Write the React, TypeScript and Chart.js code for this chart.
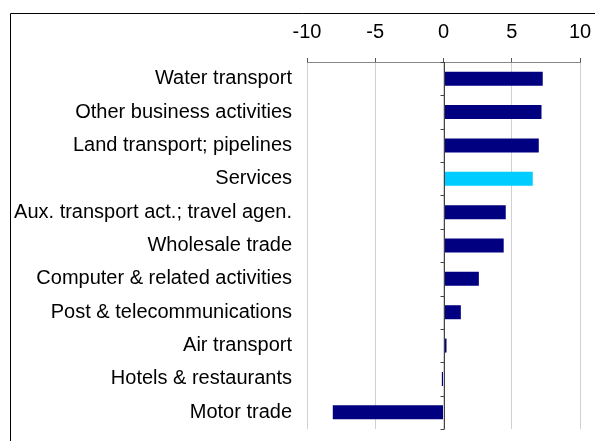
import React, { useEffect, useRef } from "react";
import { Chart, registerables } from "chart.js";

Chart.register(...registerables);

const categories = [
  "Water transport",
  "Other business activities",
  "Land transport; pipelines",
  "Services",
  "Aux. transport act.; travel agen.",
  "Wholesale trade",
  "Computer & related activities",
  "Post & telecommunications",
  "Air transport",
  "Hotels & restaurants",
  "Motor trade",
];

const values = [7.27, 7.18, 6.98, 6.54, 4.56, 4.41, 2.59, 1.27, 0.22, -0.12, -8.11];

const highlightCategory = "Services";
const xTicks = [-10, -5, 0, 5, 10];

const NAVY = "#000080";
const CYAN = "#00CCFF";
const FONT = "'Liberation Sans', Arial, sans-serif";

const framePlugin = {
  id: "frameAndZero",
  beforeDraw(chart: any) {
    const ctx = chart.ctx;
    ctx.save();
    ctx.fillStyle = "#ffffff";
    ctx.fillRect(0, 0, chart.width, chart.height);
    ctx.strokeStyle = "#000000";
    ctx.lineWidth = 1;
    ctx.beginPath();
    ctx.moveTo(10.5, chart.height);
    ctx.lineTo(10.5, 13.5);
    ctx.lineTo(chart.width, 13.5);
    ctx.stroke();
    ctx.restore();
  },
  afterDatasetsDraw(chart: any) {
    const ctx = chart.ctx;
    const xs = chart.scales.x;
    const area = chart.chartArea;
    const x0 = Math.round(xs.getPixelForValue(0)) + 0.5;
    ctx.save();
    ctx.strokeStyle = "#444444";
    ctx.lineWidth = 1;
    ctx.beginPath();
    ctx.moveTo(x0, area.top);
    ctx.lineTo(x0, area.bottom);
    const n = categories.length;
    const step = (area.bottom - area.top) / n;
    for (let i = 0; i <= n; i++) {
      const y = Math.round(area.top + i * step) + 0.5;
      ctx.moveTo(x0 - 4, y);
      ctx.lineTo(x0, y);
    }
    ctx.stroke();
    ctx.restore();
  },
};

export default function App() {
  const ref = useRef<HTMLCanvasElement>(null);

  useEffect(() => {
    if (!ref.current) return;
    const chart = new Chart(ref.current, {
      type: "bar",
      data: {
        labels: categories,
        datasets: [
          {
            data: values,
            backgroundColor: categories.map((c) => (c === highlightCategory ? CYAN : NAVY)),
            borderWidth: 0,
            barPercentage: 0.42,
            categoryPercentage: 1,
          },
        ],
      },
      options: {
        indexAxis: "y",
        animation: false,
        responsive: false,
        maintainAspectRatio: false,
        layout: { padding: { top: 6, right: 15, bottom: 12, left: 0 } },
        plugins: {
          legend: { display: false },
          tooltip: { enabled: false },
        },
        scales: {
          x: {
            position: "top",
            min: -10,
            max: 10,
            afterBuildTicks: (scale: any) => {
              scale.ticks = xTicks.map((v) => ({ value: v }));
            },
            afterFit: (scale: any) => {
              scale.paddingLeft = 0;
              scale.paddingRight = 0;
            },
            ticks: {
              color: "#000000",
              font: { family: FONT, size: 20 },
              padding: 14,
              maxRotation: 0,
            },
            grid: {
              color: "#d0d0d0",
              tickColor: "#555555",
              tickLength: 4,
              lineWidth: 1,
            },
            border: { display: true, color: "#888888" },
          },
          y: {
            afterFit: (scale: any) => {
              scale.width = 307;
              scale.paddingTop = 0;
              scale.paddingBottom = 0;
            },
            ticks: {
              color: "#000000",
              font: { family: FONT, size: 20 },
              padding: 7,
              autoSkip: false,
            },
            grid: { display: false },
            border: { display: false },
          },
        },
      },
      plugins: [framePlugin],
    });
    return () => chart.destroy();
  }, []);

  return (
    <div style={{ position: "fixed", left: 0, top: 0, width: 595, height: 441, background: "#fff" }}>
      <canvas ref={ref} width={595} height={441} style={{ display: "block", width: 595, height: 441 }} />
    </div>
  );
}
